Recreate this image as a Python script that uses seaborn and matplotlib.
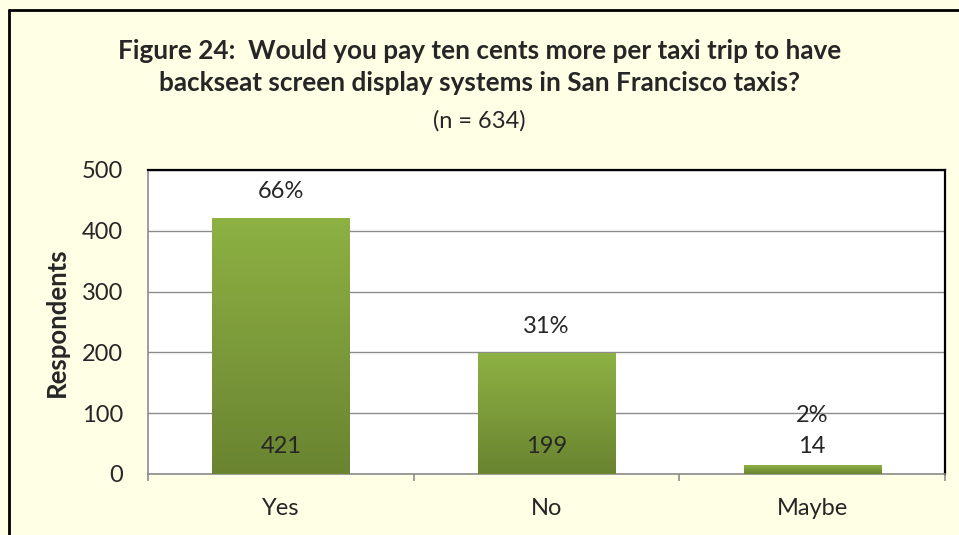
import matplotlib
matplotlib.use('Agg')
import matplotlib.pyplot as plt
import seaborn as sns
import numpy as np
import pandas as pd
from matplotlib.colors import LinearSegmentedColormap

# Veri
kategoriler = ['Yes', 'No', 'Maybe']
cevaplar = [421, 199, 14]
yuzdeler = ['66%', '31%', '2%']
n_toplam = 634

baslik_1 = 'Figure 24:  Would you pay ten cents more per taxi trip to have'
baslik_2 = 'backseat screen display systems in San Francisco taxis?'
alt_baslik = f'(n = {n_toplam})'

sns.set_style('white')
plt.rcParams['font.family'] = ['Lato', 'DejaVu Sans']

W, H = 959, 535
arka_plan = '#FFFFE6'
fig = plt.figure(figsize=(W / 100, H / 100), dpi=100, facecolor=arka_plan)
ax = fig.add_axes([148 / W, 1 - 474 / H, 797 / W, 304 / H])
ax.set_facecolor('white')

df = pd.DataFrame({'Kategori': kategoriler, 'Cevap': cevaplar})
sns.barplot(data=df, x='Kategori', y='Cevap', color='#7E9E3A', width=0.516,
            ax=ax, zorder=3)

# Çubuklara yeşil geçiş (gradient)
gecis = LinearSegmentedColormap.from_list('yesil', ['#6A8430', '#8DB143'])
grad = np.linspace(0, 1, 256).reshape(-1, 1)
for bar in ax.patches:
    x0, y0 = bar.get_x(), bar.get_y()
    w, h = bar.get_width(), bar.get_height()
    img = ax.imshow(grad, cmap=gecis, origin='lower', aspect='auto',
                    extent=[x0, x0 + w, y0, y0 + h], zorder=4)
    img.set_clip_path(bar)
    bar.set_edgecolor('none')

ax.set_xlim(-0.5, 2.5)
ax.set_ylim(0, 500)
ax.set_yticks(range(0, 501, 100))
ax.yaxis.grid(True, color='#8C8C8C', linewidth=1.0, zorder=0)
ax.set_axisbelow(True)

# Etiketler (yüzde üstte, sayı çubuğun altında)
for i, (v, p) in enumerate(zip(cevaplar, yuzdeler)):
    ax.text(i, 34, str(v), ha='center', va='baseline', fontsize=17, zorder=5)
    ax.text(i, max(v + 33, 85), p, ha='center', va='baseline', fontsize=17,
            zorder=5)

ax.set_xlabel('')
ax.set_ylabel('Respondents', fontsize=18.5, fontweight='bold')
ax.yaxis.set_label_coords((69 - 148) / 797, 0.5)

for s in ['top', 'right']:
    ax.spines[s].set_color('black')
    ax.spines[s].set_linewidth(1.6)
for s in ['left', 'bottom']:
    ax.spines[s].set_color('#8C8C8C')
    ax.spines[s].set_linewidth(1.2)

ax.set_xticks([0, 1, 2])
ax.set_xticklabels(kategoriler, fontsize=17)
ax.set_xticks([-0.5, 0.5, 1.5, 2.5], minor=True)
ax.tick_params(axis='x', which='major', length=0, pad=17)
ax.tick_params(axis='x', which='minor', direction='out', length=5,
               color='#8C8C8C', width=1.2, bottom=True)
ax.tick_params(axis='y', length=0, labelsize=17, pad=18)

fig.text(0.5, 1 - 59 / H, baslik_1, ha='center', va='baseline',
         fontsize=18.8, fontweight='bold')
fig.text(0.5, 1 - 91 / H, baslik_2, ha='center', va='baseline',
         fontsize=18.8, fontweight='bold')
fig.text(0.5, 1 - 128 / H, alt_baslik, ha='center', va='baseline',
         fontsize=17)

# Dış çerçeve (sol ve üst)
fig.add_artist(plt.Line2D([9 / W, 9 / W], [0, 1 - 10 / H],
                          color='black', linewidth=2, transform=fig.transFigure))
fig.add_artist(plt.Line2D([9 / W, 1], [1 - 10 / H, 1 - 10 / H],
                          color='black', linewidth=2, transform=fig.transFigure))

plt.savefig('out.png', dpi=100, facecolor=arka_plan)
